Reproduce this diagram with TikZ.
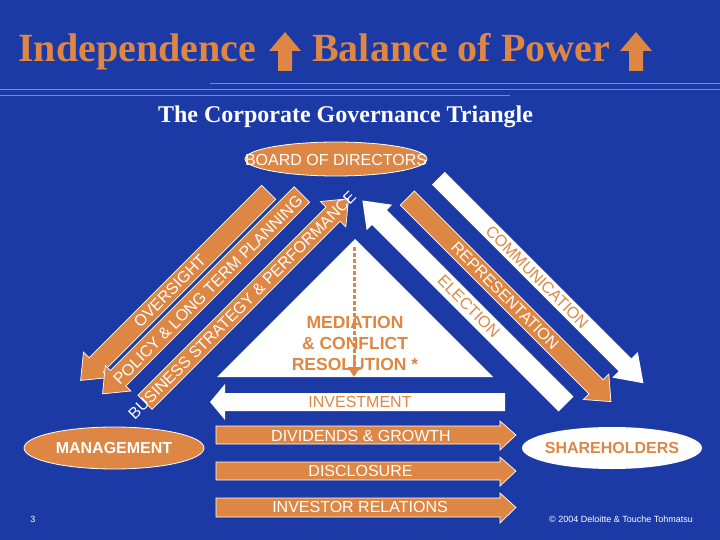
\documentclass[tikz,border=0pt]{standalone}
\usepackage{fontspec}
\setmainfont{Liberation Sans}
\newfontfamily\tms{Liberation Serif}
\usetikzlibrary{arrows.meta,shapes.geometric}
\definecolor{bgblue}{RGB}{27,58,165}
\definecolor{org}{RGB}{222,135,68}
\definecolor{lblue}{RGB}{95,145,230}
\tikzset{
  bandtxt/.style={inner sep=0pt, font=\fontsize{16}{18}\selectfont},
  orgband/.style={fill=org, draw=white, line width=0.7pt},
  whiteband/.style={fill=white},
  ovalbox/.style={ellipse, inner sep=0pt, line width=0.8pt},
  boldlbl/.style={inner sep=0pt, font=\bfseries\fontsize{16}{18}\selectfont},
}
\begin{document}
\begin{tikzpicture}[x=1pt,y=-1pt]
\useasboundingbox (0,0) rectangle (720,540);
\fill[bgblue] (0,0) rectangle (720,540);

% title
\node[anchor=base west, inner sep=0pt, text=org, font={\tms\bfseries\fontsize{40}{44}\selectfont}] (t1) at (18,62) {Independence};
\node[anchor=base west, inner sep=0pt, text=org, font={\tms\bfseries\fontsize{40}{44}\selectfont}] (t2) at (312,62) {Balance of Power};
\fill[org] (285,32) -- (301,51) -- (292,51) -- (292,71) -- (278,71) -- (278,51) -- (269,51) -- cycle;
\fill[org] (636,32) -- (652,51) -- (643,51) -- (643,71) -- (629,71) -- (629,51) -- (620,51) -- cycle;
\draw[lblue, line width=1pt] (210,84) -- (720,84);
\draw[lblue, line width=1pt] (0,90) -- (720,90);
\draw[lblue, line width=1pt] (0,96) -- (510,96);
\node[anchor=base, inner sep=0pt, text=white, font={\tms\bfseries\fontsize{24}{28}\selectfont}] (sub) at (345.5,123) {The Corporate Governance Triangle};

% ellipses
\node[ovalbox, fill=org, draw=white, minimum width=182pt, minimum height=34pt] (boardE) at (336,159) {};
\node[inner sep=0pt, text=white, font=\fontsize{16}{18}\selectfont] (board) at (336,160) {BOARD OF DIRECTORS};
\node[ovalbox, fill=org, draw=white, minimum width=180pt, minimum height=42pt] (mgmtE) at (114,448) {};
\node[boldlbl, text=white] (mgmt) at (114,448) {MANAGEMENT};
\node[ovalbox, fill=white, minimum width=180pt, minimum height=42pt] (shE) at (612,448) {};
\node[boldlbl, text=org] (sh) at (612,448) {SHAREHOLDERS};

% left bands (u along up-right, v across)
\begin{scope}[rotate=45]
\path[orgband] (54,316) -- (54,336) -- (-190,336) -- (-190,344) -- (-212,326) -- (-190,308) -- (-190,316) -- cycle;
\node[bandtxt, rotate=45, text=white] (over) at (-86,326) {OVERSIGHT};
\path[orgband] (76,340) -- (76,362) -- (-184,362) -- (-184,369) -- (-206,351) -- (-184,333) -- (-184,340) -- cycle;
\node[bandtxt, rotate=45, text=white] (policy) at (-58,352) {POLICY \& LONG TERM PLANNING};
\path[orgband] (-182,377) -- (-182,397) -- (84,397) -- (84,405) -- (106,387) -- (84,369) -- (84,377) -- cycle;
\node[bandtxt, rotate=45, text=white] (bus) at (-44.5,387) {BUSINESS STRATEGY \& PERFORMANCE};
\end{scope}

% right bands (w along down-right, -p across)
\begin{scope}[rotate=-45]
\path[whiteband] (436,-175) -- (436,-193) -- (700,-193) -- (700,-202) -- (726,-184) -- (700,-166) -- (700,-175) -- cycle;
\node[bandtxt, rotate=-45, text=org] (comm) at (575.7,-184) {COMMUNICATION};
\path[orgband] (428,-138) -- (428,-158) -- (695,-158) -- (695,-166) -- (716,-148) -- (695,-130) -- (695,-138) -- cycle;
\node[bandtxt, rotate=-45, text=white] (rep) at (566.4,-148) {REPRESENTATION};
\path[whiteband] (686,-104) -- (686,-125) -- (422,-125) -- (422,-132.5) -- (398,-114.5) -- (422,-96.5) -- (422,-104) -- cycle;
\node[bandtxt, rotate=-45, text=org] (elec) at (548,-115) {ELECTION};
\end{scope}

% central triangle
\fill[white] (355,239) -- (493,377) -- (217,377) -- cycle;
\node[align=center, inner sep=0pt, text=org, font=\bfseries\fontsize{17.5}{21}\selectfont] (med) at (355,343) {MEDIATION\\\& CONFLICT\\RESOLUTION *};
\coordinate (apex) at (354,247);
\coordinate (basec) at (354,377);
\draw[org, line width=3pt, dash pattern=on 4pt off 2pt, -{Triangle[length=10pt,width=12pt]}] (apex) -- (basec);

% bottom arrows
\path[whiteband] (505,393) -- (505,411) -- (225,411) -- (225,420) -- (210,402) -- (225,384) -- (225,393) -- cycle;
\node[bandtxt, text=org] (inv) at (360,402) {INVESTMENT};
\path[orgband] (216,426) -- (500,426) -- (500,421) -- (516,435) -- (500,450) -- (500,444) -- (216,444) -- cycle;
\node[bandtxt, text=white] (div) at (361,435.5) {DIVIDENDS \& GROWTH};
\path[orgband] (216,462) -- (500,462) -- (500,457) -- (516,471) -- (500,486) -- (500,480) -- (216,480) -- cycle;
\node[bandtxt, text=white] (disc) at (360.5,471) {DISCLOSURE};
\path[orgband] (216,498) -- (500,498) -- (500,493) -- (516,507.5) -- (500,523) -- (500,517) -- (216,517) -- cycle;
\node[bandtxt, text=white] (ir) at (360,507) {INVESTOR RELATIONS};

% footer
\node[inner sep=0pt, text=white, font=\fontsize{9}{10}\selectfont] (pg) at (33,519) {3};
\node[inner sep=0pt, text=white, font=\fontsize{9}{10}\selectfont] (copy) at (621,519) {© 2004 Deloitte \& Touche Tohmatsu};
\end{tikzpicture}
\end{document}
